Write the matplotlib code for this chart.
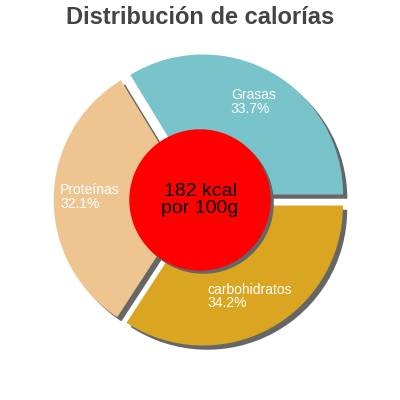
import matplotlib
matplotlib.use('Agg')
import matplotlib.pyplot as plt
from matplotlib.patches import Circle

plt.rcParams['font.family'] = ['Liberation Sans', 'DejaVu Sans']

# data
labels = ['Grasas', 'Proteínas', 'carbohidratos']
values = [33.7, 32.1, 34.2]
colors = ['#79c3cb', '#eec591', '#daa520']
label_pos = [(0.22, 0.70), (-1.0, 0.02), (0.05, -0.69)]
title = 'Distribución de calorías'
center_text = '182 kcal\npor 100g'

fig = plt.figure(figsize=(4, 4), dpi=100)
ax = fig.add_axes([0, 0, 1, 1])
lim = 200 / 140

explode = [0.045] * len(values)
sh = 0.03

# shadow pie first, then the real one
ax.pie(values, explode=explode, colors=['#666666'] * len(values), startangle=0,
       counterclock=True, radius=1, center=(sh, -sh), frame=True,
       wedgeprops=dict(linewidth=0))
ax.pie(values, explode=explode, colors=colors, startangle=0,
       counterclock=True, radius=1, center=(0, 0), frame=True,
       wedgeprops=dict(linewidth=0))
ax.set_xlim(-lim, lim)
ax.set_ylim(-lim, lim)
ax.set_aspect('equal')
ax.axis('off')

for lab, v, (x, y) in zip(labels, values, label_pos):
    ax.text(x, y, '{}\n{}%'.format(lab, v), color='white', fontsize=10,
            ha='left', va='center', linespacing=0.95)

ax.add_patch(Circle((0.022, -0.022), 0.5, color='#666666', zorder=5))
ax.add_patch(Circle((0, 0), 0.5, color='#ff0000', zorder=6))
ax.text(0, 0.0, center_text, ha='center', va='center', fontsize=14,
        color='black', zorder=7, linespacing=0.95)

fig.text(0.5, 1 - 18 / 400, title, ha='center', va='center', fontsize=17,
         fontweight='bold', color='#444444')

fig.savefig('out.png', dpi=100)
